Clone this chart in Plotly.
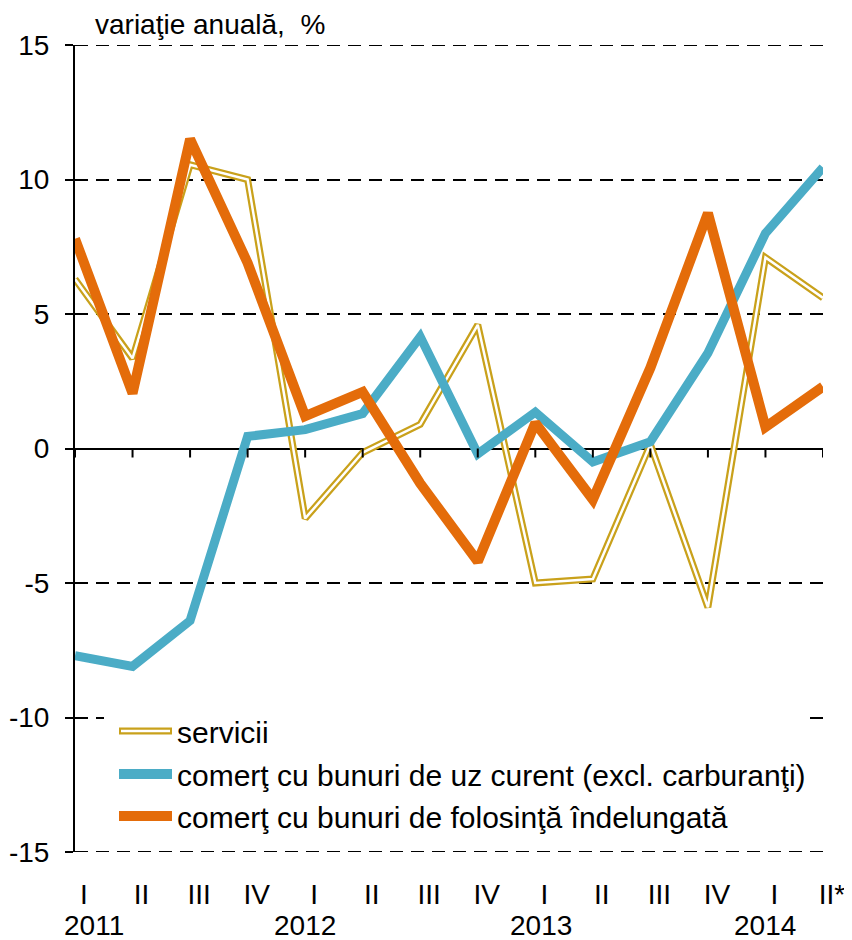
import plotly.graph_objects as go

# ---- data ----
quarters = ["I", "II", "III", "IV", "I", "II", "III", "IV", "I", "II", "III", "IV", "I", "II*"]
years = ["2011", "2012", "2013", "2014"]
year_pos = [0, 4, 8, 12]
servicii = [6.3, 3.35, 10.55, 10.0, -2.6, -0.15, 0.9, 4.6, -5.0, -4.85, 0.15, -5.9, 7.1, 5.6]
uz_curent = [-7.7, -8.1, -6.4, 0.45, 0.7, 1.3, 4.15, -0.2, 1.35, -0.5, 0.25, 3.55, 8.0, 10.45]
folosinta = [7.8, 2.05, 11.5, 6.9, 1.2, 2.1, -1.3, -4.2, 0.95, -1.9, 3.0, 8.75, 0.8, 2.3]
names = ["servicii",
         "comerţ cu bunuri de uz curent (excl. carburanţi)",
         "comerţ cu bunuri de folosinţă îndelungată"]
y_ticks = [-15, -10, -5, 0, 5, 10, 15]
y_ticktext = ["-15", "-10", "-5", "0", "5", "10", "15"]

GOLD = "#C9A11B"
BLUE = "#4BACC6"
ORANGE = "#E46C0A"
FONT = "Liberation Sans, Arial, sans-serif"
DASH = "13px,8px"

# page body has an 8px margin: shrink the figure so the plot lands where the reference has it
OFF = 8
W, H = 852 - OFF, 940 - OFF
L, R, T, B = 75 - OFF, 29, 45 - OFF, 88
PW, PH = W - L - R, H - T - B

def px(xp):  # screen pixel -> paper
    return (xp - OFF - L) / PW

def py(yp):
    return (H - B - (yp - OFF)) / PH

x = list(range(len(quarters)))

fig = go.Figure()
fig.add_trace(go.Scatter(x=x, y=servicii, mode="lines", line=dict(color=GOLD, width=7),
                         showlegend=False, hoverinfo="skip"))
fig.add_trace(go.Scatter(x=x, y=servicii, mode="lines", line=dict(color="white", width=2.5),
                         showlegend=False, name=names[0]))
fig.add_trace(go.Scatter(x=x, y=uz_curent, mode="lines", line=dict(color=BLUE, width=9),
                         showlegend=False, name=names[1]))
fig.add_trace(go.Scatter(x=x, y=folosinta, mode="lines", line=dict(color=ORANGE, width=10),
                         showlegend=False, name=names[2]))

shapes = []
# dashed lines at the range edges (plotly omits edge gridlines)
for yv in (y_ticks[0], y_ticks[-1]):
    shapes.append(dict(type="line", xref="paper", yref="y", x0=0, x1=1, y0=yv, y1=yv,
                       layer="below", line=dict(color="black", width=2, dash=DASH)))
# ticks on zero line
for i in x:
    shapes.append(dict(type="line", xref="x", yref="y", x0=i, x1=i, y0=0, y1=-9,
                       ysizemode="pixel", yanchor=0, line=dict(color="black", width=2)))

# legend background
shapes.append(dict(type="rect", xref="paper", yref="paper", x0=px(104), x1=px(805),
                   y0=py(842), y1=py(702), fillcolor="white", line=dict(width=0)))
leg_y = [731, 774, 816]
leg_colors = [GOLD, BLUE, ORANGE]
for k in range(3):
    shapes.append(dict(type="line", xref="paper", yref="paper", x0=px(119), x1=px(172),
                       y0=py(leg_y[k]), y1=py(leg_y[k]),
                       line=dict(color=leg_colors[k], width=7 if k == 0 else 10)))
    if k == 0:
        shapes.append(dict(type="line", xref="paper", yref="paper", x0=px(121), x1=px(170),
                           y0=py(leg_y[k]), y1=py(leg_y[k]),
                           line=dict(color="white", width=2.5)))

annotations = []
for k in range(3):
    annotations.append(dict(xref="paper", yref="paper", x=px(175), y=py(leg_y[k] + 1),
                            text=names[k], showarrow=False, xanchor="left", yanchor="middle",
                            font=dict(family=FONT, size=30, color="black")))
# title
annotations.append(dict(xref="paper", yref="paper", x=px(93), y=py(24),
                        text="variaţie anuală,  %", showarrow=False, xanchor="left",
                        yanchor="middle", font=dict(family=FONT, size=28, color="black")))
# years
for yr, pos in zip(years, year_pos):
    shift = 19 if yr == "2011" else (6 if yr == "2013" else 0)
    annotations.append(dict(xref="x", yref="paper", x=pos, y=0, yshift=-73, xshift=shift,
                            text=yr, showarrow=False, xanchor="center", yanchor="middle",
                            font=dict(family=FONT, size=28, color="black")))

fig.update_layout(
    width=W, height=H,
    margin=dict(l=L, r=R, t=T, b=B, pad=0),
    paper_bgcolor="white", plot_bgcolor="white",
    shapes=shapes, annotations=annotations,
    showlegend=False,
    xaxis=dict(range=[0, 13], tickvals=x, ticktext=quarters, showgrid=False,
               zeroline=False, showline=False, ticks="", automargin=False,
               ticklabelstandoff=23, ticklabelshift=9,
               tickfont=dict(family=FONT, size=28, color="black")),
    yaxis=dict(range=[-15, 15], tickvals=y_ticks, ticktext=y_ticktext, showgrid=True,
               gridcolor="black", automargin=False,
               gridwidth=2, griddash=DASH, zeroline=True, zerolinecolor="black",
               zerolinewidth=2, showline=True, linecolor="black", linewidth=2,
               ticks="outside", ticklen=8, tickwidth=2, tickcolor="black",
               ticklabelstandoff=10,
               tickfont=dict(family=FONT, size=28, color="black")),
)

fig.write_html("out.html")
